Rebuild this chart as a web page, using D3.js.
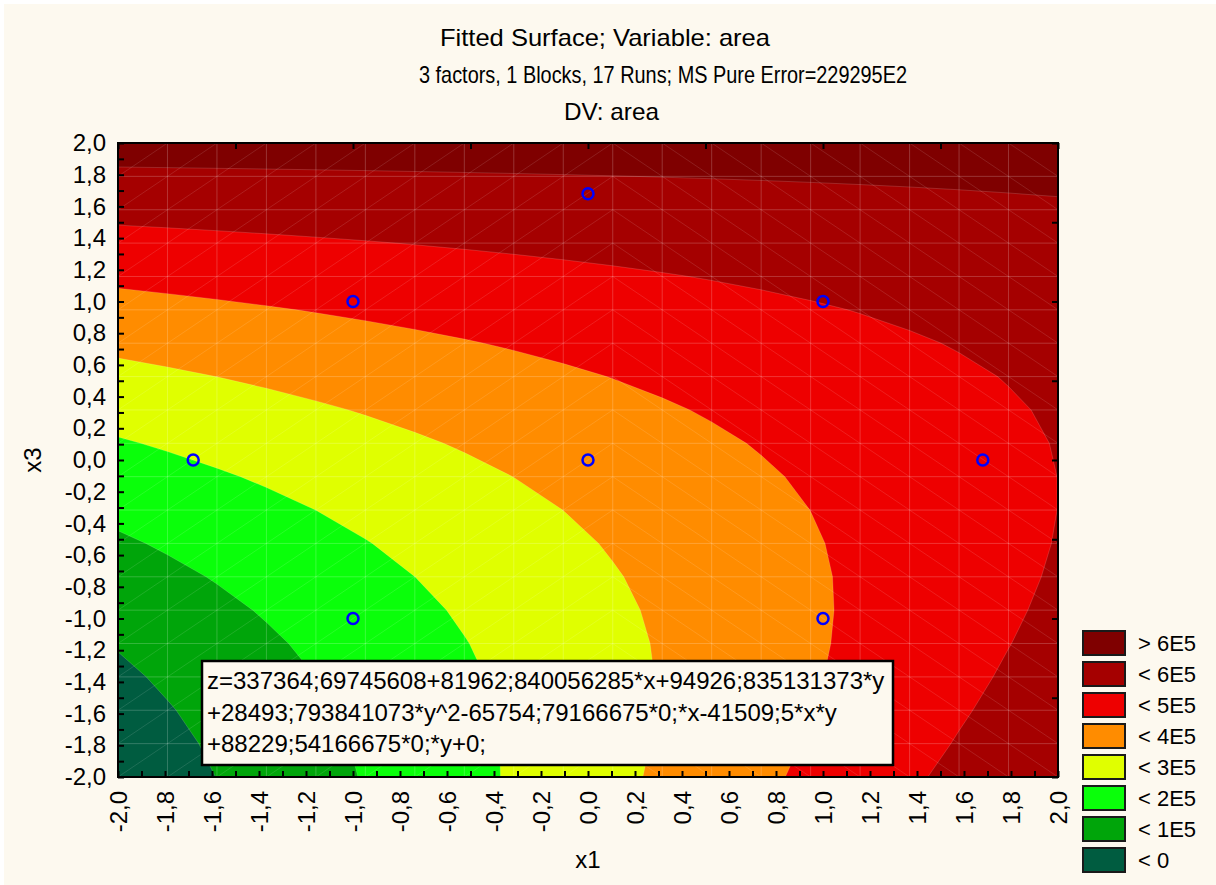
<!DOCTYPE html>
<html>
<head>
<meta charset="utf-8">
<script src="https://cdn.jsdelivr.net/npm/d3@7"></script>
<style>
  body { margin: 0; background: #fff; }
  text { font-family: "Liberation Sans", Arial, sans-serif; fill: #000; }
</style>
</head>
<body>
<div id="chart"></div>
<script>
// titles and text
const titleLines = ["Fitted Surface; Variable: area",
                    "3 factors, 1 Blocks, 17 Runs; MS Pure Error=229295E2",
                    "DV: area"];
const equationLines = ["z=337364;69745608+81962;840056285*x+94926;835131373*y",
                       "+28493;793841073*y^2-65754;79166675*0;*x-41509;5*x*y",
                       "+88229;54166675*0;*y+0;"];

// fitted surface: z = b0 + b1*x + b3*y + b33*y^2 + b13*x*y
const coefTerms = ["1", "x", "y", "y^2", "x*y"];
const coefValues = [337364.69745608, 81962.840056285, 94926.835131373, 28493.793841073, -41509.5];

// contour levels and legend
const levels = [0, 100000, 200000, 300000, 400000, 500000, 600000];
const legendLabels = ["> 6E5", "< 6E5", "< 5E5", "< 4E5", "< 3E5", "< 2E5", "< 1E5", "< 0"];
const legendColors = ["#7f0000", "#a50000", "#ee0000", "#ff8c00", "#e0ff00", "#0aff0a", "#00a50a", "#005c40"];

// design runs (x1, x3)
const runX1 = [0, -1, 1, -1.68, 0, 1.68, -1, 1];
const runX3 = [1.68, 1, 1, 0, 0, 0, -1, -1];

const W = 1216, H = 885;
const L = 118, R = 1058, T = 143, B = 777;
const nGrid = 20;

const svg = d3.select("#chart").append("svg")
    .attr("width", W).attr("height", H);

svg.append("rect").attr("width", W).attr("height", H).attr("fill", "#fff");
svg.append("rect").attr("x", 4).attr("y", 4).attr("width", W - 4).attr("height", H - 4)
    .attr("fill", "#fdf9ef");

const x = d3.scaleLinear().domain([-2, 2]).range([L, R]);
const y = d3.scaleLinear().domain([-2, 2]).range([B, T]);

function surface(a, b) {
    const t = [1, a, b, b * b, a * b];
    return d3.sum(coefValues, (c, i) => c * t[i]);
}

// grid of the fitted surface
const gx = d3.range(nGrid).map(i => -2 + i * 4 / (nGrid - 1));
const gy = d3.range(nGrid).map(j => 2 - j * 4 / (nGrid - 1));
const values = [];
gy.forEach(b => gx.forEach(a => values.push(surface(a, b))));

const cx = d3.scaleLinear().domain([0.5, nGrid - 0.5]).range([L, R]);
const cy = d3.scaleLinear().domain([0.5, nGrid - 0.5]).range([T, B]);
const path = d3.geoPath(d3.geoTransform({
    point(px, py) { this.stream.point(cx(px), cy(py)); }
}));

const contours = d3.contours().size([nGrid, nGrid]).thresholds(levels)(values);

svg.append("clipPath").attr("id", "plotclip")
  .append("rect").attr("x", L).attr("y", T).attr("width", R - L).attr("height", B - T);

const plot = svg.append("g").attr("clip-path", "url(#plotclip)");

// lowest band fills the whole area
plot.append("rect").attr("x", L).attr("y", T).attr("width", R - L).attr("height", B - T)
    .attr("fill", legendColors[legendColors.length - 1]);

plot.selectAll("path.band")
  .data(contours)
  .join("path")
    .attr("class", "band")
    .attr("d", path)
    .attr("fill", (d, i) => legendColors[legendColors.length - 2 - i])
    .attr("stroke", "rgba(255,255,255,0.15)")
    .attr("stroke-width", 1);

// faint mesh
const mesh = plot.append("g").attr("stroke", "#fff").attr("fill", "none");
mesh.selectAll("line.v").data(gx).join("line")
    .attr("x1", d => x(d)).attr("x2", d => x(d)).attr("y1", T).attr("y2", B)
    .attr("stroke-opacity", 0.2);
mesh.selectAll("line.h").data(gy).join("line")
    .attr("y1", d => y(d)).attr("y2", d => y(d)).attr("x1", L).attr("x2", R)
    .attr("stroke-opacity", 0.2);
const cells = [];
for (let i = 0; i < nGrid - 1; i++)
    for (let j = 0; j < nGrid - 1; j++) cells.push([i, j]);
mesh.selectAll("line.d").data(cells).join("line")
    .attr("x1", d => x(gx[d[0]])).attr("x2", d => x(gx[d[0] + 1]))
    .attr("y1", d => (gx[d[0]] + gx[d[0] + 1]) / 2 < 0 ? y(gy[d[1] + 1]) : y(gy[d[1]]))
    .attr("y2", d => (gx[d[0]] + gx[d[0] + 1]) / 2 < 0 ? y(gy[d[1]]) : y(gy[d[1] + 1]))
    .attr("stroke-opacity", 0.15).attr("stroke-width", 0.8);

// design points
svg.append("g").selectAll("circle")
  .data(runX1)
  .join("circle")
    .attr("cx", d => x(d))
    .attr("cy", (d, i) => y(runX3[i]))
    .attr("r", 5.5)
    .attr("fill", "none")
    .attr("stroke", "#0000ff")
    .attr("stroke-width", 2.5);

// axes
const fmt = d => d3.format(".1f")(Math.abs(d) < 1e-9 ? 0 : d).replace("\u2212", "-").replace(".", ",");
const fine = d3.range(-20, 21).map(d => d / 10);
const coarse = d3.range(-4, 5).map(d => d / 2);
const showLabel = d => Math.abs(Math.round(d * 10)) % 2 === 0;

const gLeft = svg.append("g").attr("transform", `translate(${L},0)`)
    .call(d3.axisLeft(y).tickValues(fine).tickSize(-6).tickPadding(12)
        .tickFormat(d => showLabel(d) ? fmt(d) : ""));
gLeft.selectAll("text").style("font-size", "24px");

const gBottom = svg.append("g").attr("transform", `translate(0,${B})`)
    .call(d3.axisBottom(x).tickValues(fine).tickSize(-6).tickPadding(0)
        .tickFormat(d => showLabel(d) ? fmt(d) : ""));
gBottom.selectAll("text")
    .style("font-size", "24px")
    .attr("text-anchor", "end")
    .attr("transform", "rotate(-90)")
    .attr("x", -14).attr("y", 0).attr("dy", "0.35em");

svg.append("g").attr("transform", `translate(0,${T})`)
    .call(d3.axisTop(x).tickValues(coarse).tickSize(-6).tickFormat(""));
svg.append("g").attr("transform", `translate(${R},0)`)
    .call(d3.axisRight(y).tickValues(coarse).tickSize(-6).tickFormat(""));

svg.selectAll(".domain").remove();
svg.selectAll(".tick line").attr("stroke", "#000").attr("stroke-width", 2);

svg.append("rect").attr("x", L).attr("y", T).attr("width", R - L).attr("height", B - T)
    .attr("fill", "none").attr("stroke", "#000").attr("stroke-width", 2);

// titles (second line is drawn narrower in the original)
const titleStart = [440, 419, 564];
const titleLength = [330, 488, 95];
svg.append("g").selectAll("text")
  .data(titleLines)
  .join("text")
    .attr("x", (d, i) => titleStart[i])
    .attr("y", (d, i) => 46 + i * 37)
    .attr("textLength", (d, i) => titleLength[i])
    .attr("lengthAdjust", "spacingAndGlyphs")
    .style("font-size", "24px")
    .text(d => d);

svg.append("text").attr("x", 588).attr("y", 868).attr("text-anchor", "middle")
    .style("font-size", "24px").text("x1");
svg.append("text").attr("transform", `translate(41,${y(0)}) rotate(-90)`)
    .attr("text-anchor", "middle").style("font-size", "24px").text("x3");

// equation box
const eq = svg.append("g");
eq.append("rect").attr("x", 202).attr("y", 661).attr("width", 691).attr("height", 104)
    .attr("fill", "#fdf9ef").attr("stroke", "#000").attr("stroke-width", 2.5);
eq.selectAll("text").data(equationLines).join("text")
    .attr("x", 207).attr("y", (d, i) => 689 + i * 31.5)
    .style("font-size", "24px")
    .text(d => d);

// legend
const leg = svg.append("g").attr("transform", "translate(1083,631)");
const item = leg.selectAll("g").data(legendLabels).join("g")
    .attr("transform", (d, i) => `translate(0,${i * 31})`);
item.append("rect").attr("width", 42).attr("height", 24)
    .attr("fill", (d, i) => legendColors[i])
    .attr("stroke", "#1a1a1a").attr("stroke-width", 2);
item.append("text").attr("x", 55).attr("y", 12).attr("dy", "0.35em")
    .style("font-size", "22px")
    .text(d => d);
</script>
</body>
</html>
